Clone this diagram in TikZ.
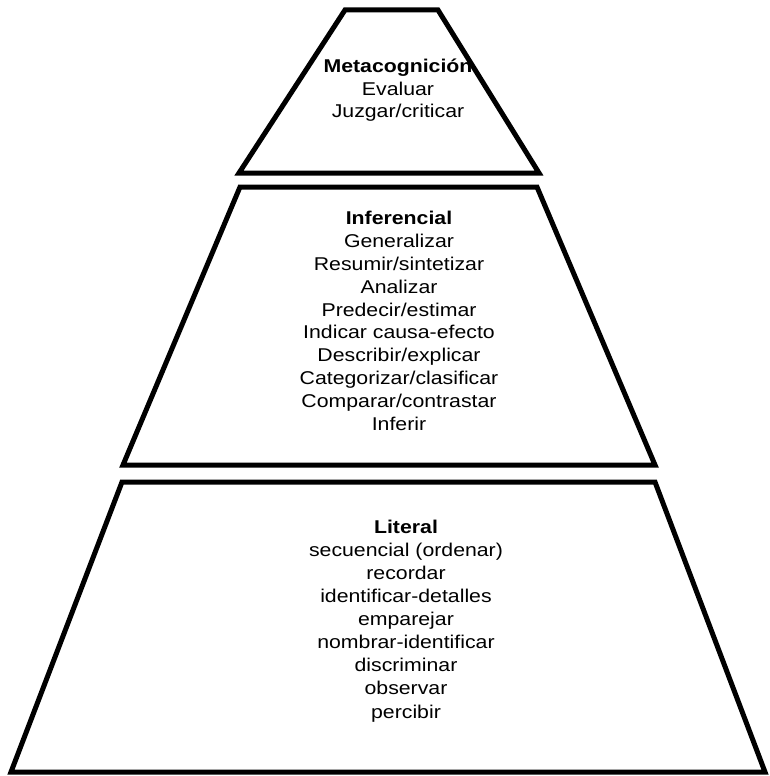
\documentclass[tikz,border=0pt]{standalone}
\usepackage{fontspec}
\setmainfont{Liberation Sans}[FakeStretch=1.15]
\begin{document}
\begin{tikzpicture}[x=1pt,y=-1pt,
  level/.style={draw=black,line width=5pt,line join=miter,fill=white},
  lbl/.style={align=center,inner sep=0pt,anchor=base,font=\fontsize{18.5}{22.8}\selectfont}]
\useasboundingbox[fill=white] (0,0) rectangle (769,776);
\draw[level] (345,10) -- (438,10) -- (539,173) -- (239,173) -- cycle;
\draw[level] (240,187) -- (537,187) -- (655,465) -- (123,465) -- cycle;
\draw[level] (122,482) -- (655,482) -- (765,772) -- (11,772) -- cycle;
\node[lbl,font=\fontsize{18.5}{22}\selectfont] (meta) at (398,117) {\textbf{Metacognición}\\Evaluar\\Juzgar/criticar};
\node[lbl] (inf) at (399,430) {\textbf{Inferencial}\\Generalizar\\Resumir/sintetizar\\Analizar\\Predecir/estimar\\Indicar causa-efecto\\Describir/explicar\\Categorizar/clasificar\\Comparar/contrastar\\Inferir};
\node[lbl,font=\fontsize{18.5}{23.1}\selectfont] (lit) at (406,718) {\textbf{Literal}\\secuencial (ordenar)\\recordar\\identificar-detalles\\emparejar\\nombrar-identificar\\discriminar\\observar\\percibir};
\end{tikzpicture}
\end{document}
